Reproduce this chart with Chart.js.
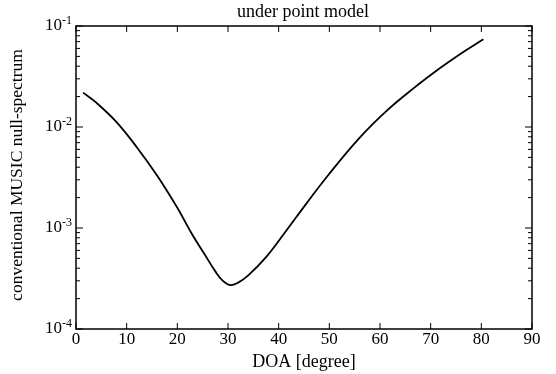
<!DOCTYPE html>
<html>
<head>
<meta charset="utf-8">
<script src="https://cdn.jsdelivr.net/npm/chart.js@4.4.1/dist/chart.umd.min.js"></script>
<style>
html,body{margin:0;padding:0;background:#fff;}
#wrap{width:556px;height:374px;}
</style>
</head>
<body>
<div id="wrap"><canvas id="c" width="556" height="374"></canvas></div>
<script>
// DOA values (degrees)
const doa = [1.4, 4, 8, 12, 16, 20, 23, 25.5, 27.5, 29, 30.4, 32, 34, 37.6, 41.6, 45.5, 49.8, 56, 61.3, 66.6, 71.8, 76, 80.4];
// conventional MUSIC null-spectrum values
const nullSpectrum = [0.02188, 0.01742, 0.01119, 0.00631, 0.00331, 0.001585, 0.000851, 0.000537, 0.000372, 0.000299, 0.000272, 0.000288, 0.000339, 0.00052, 0.000955, 0.001754, 0.00335, 0.00785, 0.01445, 0.0241, 0.0381, 0.0535, 0.0738];
const xTicks = [0, 10, 20, 30, 40, 50, 60, 70, 80, 90];
const yDecades = [-4, -3, -2, -1];
const titleText = 'under point model';
const xTitle = 'DOA [degree]';
const yTitle = 'conventional MUSIC null-spectrum';

const FONT = '"Liberation Serif", "Times New Roman", serif';

const deco = {
  id: 'deco',
  afterDraw(chart) {
    const ctx = chart.ctx;
    const a = chart.chartArea;
    const xs = chart.scales.x, ys = chart.scales.y;
    ctx.save();
    ctx.strokeStyle = '#000';
    ctx.fillStyle = '#000';
    ctx.lineWidth = 1.5;
    ctx.strokeRect(a.left, a.top, a.right - a.left, a.bottom - a.top);
    ctx.lineWidth = 1;
    // x ticks
    ctx.font = '17px ' + FONT;
    ctx.textAlign = 'center';
    ctx.textBaseline = 'top';
    xTicks.forEach(v => {
      const px = xs.getPixelForValue(v);
      ctx.beginPath();
      ctx.moveTo(px, a.bottom); ctx.lineTo(px, a.bottom - 6);
      ctx.moveTo(px, a.top); ctx.lineTo(px, a.top + 6);
      ctx.stroke();
      ctx.fillText(String(v), px, a.bottom + 2);
    });
    // y ticks
    yDecades.forEach(d => {
      const base = Math.pow(10, d);
      const py = ys.getPixelForValue(base);
      ctx.beginPath();
      ctx.moveTo(a.left, py); ctx.lineTo(a.left + 7, py);
      ctx.moveTo(a.right, py); ctx.lineTo(a.right - 7, py);
      ctx.stroke();
      if (d < -1) {
        for (let m = 2; m <= 9; m++) {
          const p = ys.getPixelForValue(m * base);
          ctx.beginPath();
          ctx.moveTo(a.left, p); ctx.lineTo(a.left + 4, p);
          ctx.moveTo(a.right, p); ctx.lineTo(a.right - 4, p);
          ctx.stroke();
        }
      }
      ctx.font = '17px ' + FONT;
      ctx.textAlign = 'right';
      ctx.textBaseline = 'middle';
      ctx.fillText('10', a.left - 14, py);
      ctx.font = '12px ' + FONT;
      ctx.textAlign = 'left';
      ctx.fillText('-' + (-d), a.left - 14, py - 5);
    });
    // titles
    ctx.textAlign = 'center';
    ctx.textBaseline = 'middle';
    ctx.font = '18px ' + FONT;
    ctx.fillText(titleText, 303, 12);
    ctx.font = '18px ' + FONT;
    ctx.fillText(xTitle, 304, 362);
    ctx.save();
    ctx.translate(17, 175);
    ctx.rotate(-Math.PI / 2);
    ctx.font = '17.5px ' + FONT;
    ctx.fillText(yTitle, 0, 0);
    ctx.restore();
    ctx.restore();
  }
};

new Chart(document.getElementById('c'), {
  type: 'line',
  data: {
    datasets: [{
      data: doa.map((x, i) => ({ x: x, y: nullSpectrum[i] })),
      borderColor: '#000',
      borderWidth: 1.8,
      pointRadius: 0,
      fill: false,
      tension: 0.4
    }]
  },
  options: {
    responsive: false,
    animation: false,
    devicePixelRatio: 1,
    layout: { padding: { left: 0, right: 24, top: 26, bottom: 0 } },
    plugins: { legend: { display: false }, tooltip: { enabled: false }, title: { display: false } },
    scales: {
      x: {
        type: 'linear', min: 0, max: 90,
        grid: { display: false }, border: { display: false },
        ticks: { display: false },
        afterFit(s) { s.height = 45; }
      },
      y: {
        type: 'logarithmic', min: 1e-4, max: 1e-1,
        grid: { display: false }, border: { display: false },
        ticks: { display: false },
        afterFit(s) { s.width = 76; }
      }
    }
  },
  plugins: [deco]
});
</script>
</body>
</html>
